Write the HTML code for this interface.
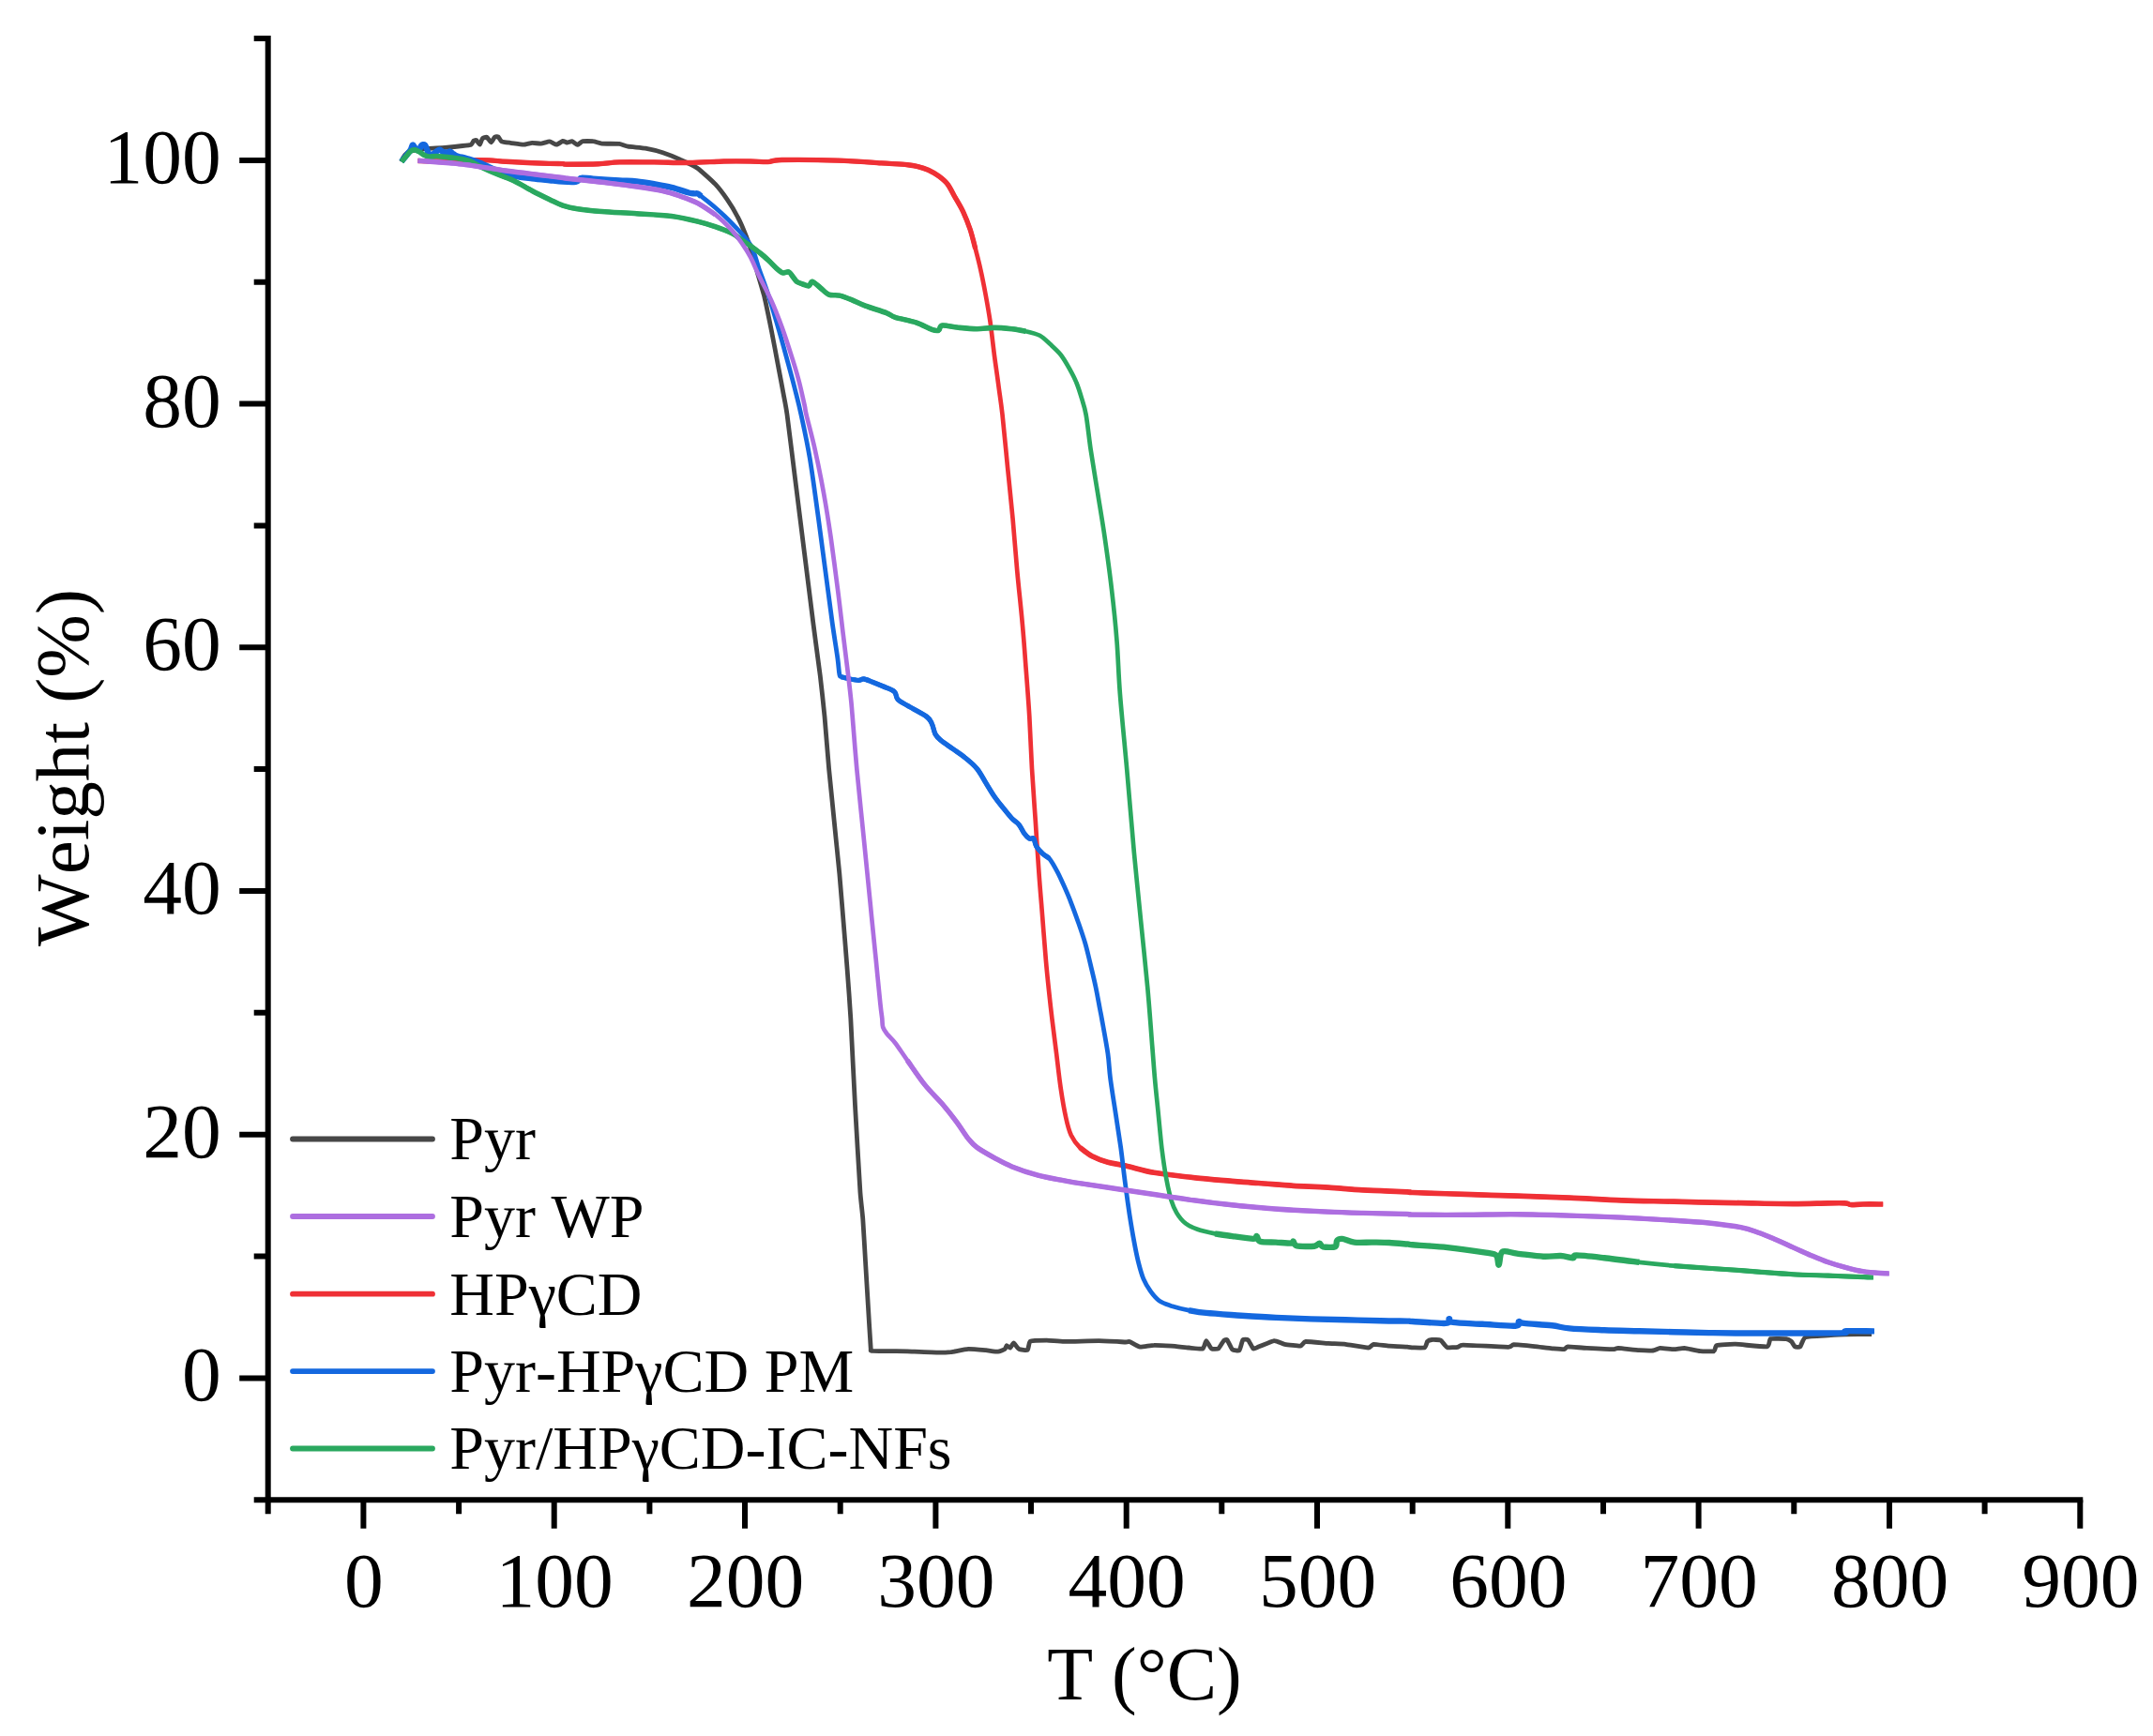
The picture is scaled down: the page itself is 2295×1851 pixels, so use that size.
<!DOCTYPE html>
<html><head><meta charset="utf-8"><title>TGA</title>
<style>
html,body{margin:0;padding:0;background:#fff}
svg{display:block;filter:blur(0.4px)}
text{font-kerning:none;font-family:"Liberation Serif","DejaVu Serif",serif;fill:#000}
</style></head><body>
<svg width="2295" height="1851" viewBox="0 0 2295 1851">
<rect width="2295" height="1851" fill="#fff"/>
<g fill="none" stroke-linejoin="round" stroke-linecap="butt">
<path stroke="#474747" stroke-width="4.80" d="M427.9 172.3C428.1 171.8 430.9 166.1 431.6 165.3C432.3 164.5 435.4 161.6 437.2 161.1C438.9 160.6 453.0 158.6 455.7 158.3C458.5 158.1 471.6 157.6 474.3 157.4C477.0 157.2 490.8 155.8 492.9 155.5C494.9 155.3 501.3 154.6 502.2 154.2C503.1 153.7 504.6 150.3 505.0 150.0C505.4 149.6 507.3 149.2 507.8 149.5C508.2 149.8 511.0 154.3 511.5 154.2C511.9 154.0 513.7 148.2 514.3 147.6C514.8 147.1 518.2 145.9 518.9 146.3C519.6 146.6 522.9 151.8 523.5 151.8C524.2 151.8 526.7 146.7 527.3 146.3C527.8 145.8 530.4 145.5 531.0 145.8C531.5 146.1 533.7 150.4 534.7 150.9C535.6 151.4 542.3 152.1 544.0 152.3C545.7 152.5 556.2 154.2 557.9 154.2C559.6 154.2 565.8 152.4 567.2 152.3C568.6 152.2 575.1 153.3 576.5 153.2C577.9 153.1 584.6 150.8 585.8 150.9C587.0 151.0 592.2 154.2 593.2 154.2C594.3 154.1 599.2 150.6 600.0 150.4C600.8 150.3 603.6 151.9 604.4 152.0C605.1 152.0 609.1 150.5 609.9 150.7C610.8 150.8 614.7 154.4 615.5 154.4C616.3 154.4 619.9 150.9 621.1 150.7C622.3 150.4 630.7 150.5 632.2 150.7C633.7 150.8 639.5 152.9 641.5 153.1C643.6 153.3 658.1 153.2 660.1 153.4C662.1 153.7 667.3 155.9 669.4 156.2C671.4 156.6 685.2 157.6 688.0 158.1C690.7 158.6 703.8 161.8 706.5 162.7C709.3 163.6 722.4 168.9 725.1 170.2C727.9 171.4 741.0 177.5 743.7 179.5C746.4 181.4 760.0 193.7 762.3 196.2C764.6 198.6 773.5 210.3 775.3 212.9C777.1 215.5 785.1 228.9 786.4 231.5C787.8 234.1 792.9 245.7 793.9 248.2C794.9 250.6 799.0 261.8 800.0 264.9C801.0 268.0 806.3 287.1 807.4 290.9C808.5 294.7 813.8 312.4 814.9 316.9C816.0 321.4 821.2 346.8 822.3 352.2C823.4 357.7 828.8 386.2 829.7 391.2C830.7 396.3 834.6 417.3 835.3 421.0C836.0 424.7 838.1 435.0 839.0 442.0C840.0 449.0 846.9 505.4 848.3 516.3C849.7 527.2 856.2 579.7 857.6 590.6C859.0 601.5 865.7 655.4 866.9 664.9C868.1 674.5 873.4 713.4 874.3 720.7C875.2 727.9 878.3 756.7 879.0 764.0C879.6 771.2 882.9 811.6 883.6 819.7C884.4 827.9 888.4 867.3 889.2 875.5C890.0 883.6 894.0 923.0 894.8 931.2C895.5 939.4 898.8 979.5 899.4 986.9C900.0 994.4 902.6 1026.1 903.1 1033.4C903.7 1040.7 906.2 1075.3 906.8 1086.0C907.4 1096.6 910.7 1165.3 911.5 1178.9C912.2 1192.5 916.4 1262.9 917.0 1271.8C917.7 1280.7 919.4 1294.5 919.8 1300.0C920.2 1305.5 922.2 1339.6 922.6 1346.4C923.0 1353.3 925.0 1386.2 925.4 1392.9C925.8 1399.6 927.9 1434.0 928.2 1437.5C928.5 1441.0 927.2 1440.0 930.1 1440.3C932.9 1440.5 962.0 1440.7 967.2 1440.8C972.4 1441.0 997.2 1442.1 1000.7 1442.1C1004.1 1442.2 1011.3 1441.8 1013.7 1441.6C1016.0 1441.3 1029.5 1438.5 1032.2 1438.4C1035.0 1438.3 1048.5 1439.5 1050.8 1439.7C1053.1 1439.9 1062.3 1441.3 1063.8 1441.2C1065.3 1441.1 1070.6 1438.9 1071.2 1438.4C1071.9 1437.9 1072.7 1434.8 1073.1 1434.7C1073.5 1434.6 1076.3 1437.3 1076.8 1437.1C1077.4 1436.9 1079.9 1431.8 1080.5 1431.9C1081.2 1432.0 1085.0 1437.9 1086.1 1438.4C1087.2 1439.0 1094.5 1440.0 1095.4 1439.3C1096.3 1438.7 1096.7 1430.8 1098.2 1430.1C1099.7 1429.3 1113.2 1429.1 1115.8 1429.1C1118.5 1429.1 1130.3 1430.4 1134.4 1430.4C1138.5 1430.5 1166.8 1429.6 1171.6 1429.7C1176.4 1429.7 1197.6 1430.9 1200.0 1431.0C1202.4 1431.0 1202.9 1430.2 1204.0 1430.5C1205.2 1430.9 1213.3 1435.8 1215.2 1436.1C1217.1 1436.4 1227.6 1434.3 1230.1 1434.3C1232.5 1434.2 1245.9 1435.0 1248.6 1435.2C1251.4 1435.4 1264.8 1436.8 1267.2 1437.0C1269.7 1437.2 1280.7 1438.5 1282.1 1438.0C1283.4 1437.4 1285.1 1429.6 1285.8 1429.6C1286.5 1429.6 1290.4 1437.4 1291.4 1438.0C1292.3 1438.6 1297.8 1438.6 1298.8 1438.0C1299.7 1437.4 1303.7 1430.3 1304.4 1429.6C1305.0 1428.9 1307.4 1428.0 1308.1 1428.7C1308.8 1429.4 1312.7 1438.1 1313.7 1438.9C1314.6 1439.7 1320.3 1440.6 1321.1 1439.8C1321.9 1439.1 1324.1 1429.5 1324.8 1428.7C1325.5 1427.9 1329.6 1428.0 1330.4 1428.7C1331.2 1429.4 1335.1 1437.4 1335.9 1438.0C1336.8 1438.5 1339.9 1436.7 1341.5 1436.1C1343.2 1435.5 1356.2 1429.8 1358.2 1429.6C1360.3 1429.4 1367.3 1432.9 1369.4 1433.3C1371.4 1433.7 1384.5 1435.4 1386.1 1435.2C1387.7 1435.0 1389.5 1430.7 1391.7 1430.5C1393.9 1430.3 1412.7 1432.2 1415.8 1432.4C1419.0 1432.6 1431.3 1433.0 1434.4 1433.3C1437.6 1433.7 1456.4 1437.0 1458.6 1437.0C1460.7 1437.0 1462.5 1433.5 1464.1 1433.3C1465.8 1433.2 1478.2 1435.0 1480.9 1435.2C1483.5 1435.4 1498.2 1436.0 1500.0 1436.1C1501.8 1436.2 1504.4 1436.8 1505.7 1436.9C1507.1 1436.9 1517.6 1437.4 1518.7 1436.9C1519.9 1436.4 1521.0 1431.0 1521.5 1430.4C1522.1 1429.8 1525.2 1428.6 1526.2 1428.5C1527.2 1428.4 1534.4 1428.5 1535.5 1428.9C1536.5 1429.3 1539.6 1433.5 1540.1 1434.1C1540.7 1434.7 1541.9 1436.7 1542.9 1436.9C1543.9 1437.0 1552.8 1436.5 1554.0 1436.3C1555.3 1436.1 1555.7 1434.1 1559.6 1434.1C1563.6 1434.1 1604.0 1436.3 1607.9 1436.3C1611.9 1436.3 1611.4 1433.8 1613.5 1433.7C1615.5 1433.7 1632.8 1435.3 1635.8 1435.6C1638.8 1435.9 1652.0 1437.6 1654.4 1437.8C1656.7 1438.0 1666.1 1438.9 1667.4 1438.7C1668.6 1438.6 1669.3 1436.0 1671.1 1435.9C1672.9 1435.9 1688.0 1437.2 1691.5 1437.4C1695.1 1437.6 1716.9 1438.7 1719.4 1438.7C1721.8 1438.7 1722.9 1437.4 1725.0 1437.4C1727.0 1437.5 1744.5 1439.5 1747.3 1439.7C1750.0 1439.9 1760.5 1440.2 1762.1 1440.0C1763.8 1439.9 1767.9 1437.5 1769.6 1437.4C1771.2 1437.3 1782.5 1438.7 1784.4 1438.7C1786.3 1438.7 1793.5 1437.3 1795.6 1437.4C1797.6 1437.6 1810.0 1440.4 1812.3 1440.6C1814.6 1440.8 1825.9 1441.0 1827.1 1440.6C1828.4 1440.1 1828.3 1435.0 1829.9 1434.5C1831.6 1433.9 1846.1 1433.1 1850.0 1433.2C1853.9 1433.3 1880.9 1436.4 1883.6 1435.9C1886.3 1435.5 1885.8 1428.2 1887.3 1427.6C1888.8 1427.0 1902.4 1427.4 1904.0 1427.6C1905.7 1427.8 1908.9 1429.8 1909.6 1430.4C1910.3 1431.0 1912.6 1435.5 1913.3 1435.9C1914.0 1436.4 1918.1 1436.7 1918.9 1435.9C1919.7 1435.2 1922.3 1426.6 1924.5 1425.7C1926.7 1424.8 1945.5 1424.1 1948.6 1423.9C1951.8 1423.7 1963.8 1423.0 1967.2 1422.9C1970.6 1422.8 1993.0 1422.6 1995.1 1422.6"/>
<path stroke="#EF3035" stroke-width="4.70" d="M445.5 171.5C450.3 171.6 466.4 172.0 474.3 172.0C482.2 172.0 488.2 171.6 492.9 171.4C497.5 171.2 497.5 170.8 502.2 170.7C506.8 170.6 514.6 170.6 520.8 170.9C527.0 171.1 531.6 171.8 539.3 172.3C547.1 172.7 559.5 173.3 567.2 173.7C574.9 174.0 580.3 174.2 585.8 174.4C591.3 174.6 596.9 174.5 600.0 174.6C603.1 174.7 598.1 175.1 604.4 175.2C610.7 175.2 628.5 175.2 637.8 174.8C647.1 174.4 650.2 173.3 660.1 172.9C670.0 172.6 684.9 172.9 697.3 172.9C709.6 173.0 722.0 173.7 734.4 173.5C746.8 173.4 760.6 172.3 771.6 172.0C782.5 171.8 792.2 171.9 800.0 172.0C807.8 172.1 813.0 172.8 818.6 172.6C824.2 172.3 821.1 170.8 833.4 170.5C845.8 170.3 875.2 170.5 892.9 171.1C910.5 171.6 927.0 173.1 939.3 173.9C951.7 174.7 960.7 175.1 967.2 175.7C973.7 176.4 974.6 176.7 978.4 177.6C982.1 178.5 985.8 179.6 989.5 181.3C993.2 183.0 997.2 185.3 1000.7 187.8C1004.1 190.3 1007.2 192.6 1009.9 196.2C1012.7 199.7 1014.6 204.2 1017.4 209.2C1020.2 214.1 1023.9 220.0 1026.7 225.9C1029.4 231.8 1031.9 238.0 1034.1 244.5C1036.3 251.0 1037.8 257.8 1039.7 264.9C1041.5 272.0 1043.4 278.8 1045.2 287.2C1047.1 295.6 1049.1 305.8 1050.8 315.1C1052.5 324.4 1053.9 332.1 1055.5 342.9C1057.0 353.8 1058.6 368.3 1060.1 380.1C1061.7 391.9 1063.4 403.2 1064.7 413.5C1066.1 423.9 1066.9 427.9 1068.5 442.0C1070.0 456.0 1072.2 479.2 1074.0 497.7C1075.9 516.3 1077.9 534.9 1079.6 553.5C1081.3 572.1 1082.6 590.6 1084.3 609.2C1086.0 627.8 1088.3 647.9 1089.8 664.9C1091.4 682.0 1092.3 694.9 1093.5 711.4C1094.8 727.9 1096.2 745.9 1097.3 764.0C1098.3 782.0 1099.0 801.2 1100.0 819.7C1101.1 838.3 1102.5 856.9 1103.8 875.5C1105.0 894.1 1106.2 914.2 1107.5 931.2C1108.7 948.2 1110.0 962.2 1111.2 977.7C1112.4 993.1 1113.7 1010.2 1114.9 1024.1C1116.1 1038.0 1117.5 1050.9 1118.6 1061.3C1119.7 1071.6 1120.2 1075.7 1121.4 1086.0C1122.7 1096.3 1124.5 1110.8 1126.1 1123.2C1127.6 1135.5 1129.0 1148.9 1130.7 1160.3C1132.4 1171.8 1134.4 1183.5 1136.3 1191.9C1138.1 1200.3 1139.4 1205.2 1141.8 1210.5C1144.3 1215.7 1147.4 1219.8 1151.1 1223.5C1154.9 1227.2 1159.2 1230.1 1164.1 1232.8C1169.1 1235.4 1174.9 1237.6 1180.9 1239.3C1186.8 1241.0 1191.8 1241.1 1200.0 1243.0C1208.2 1244.8 1218.8 1248.3 1230.1 1250.3C1241.3 1252.3 1254.8 1253.6 1267.2 1255.0C1279.6 1256.4 1292.0 1257.6 1304.4 1258.7C1316.8 1259.8 1329.1 1260.5 1341.5 1261.5C1353.9 1262.4 1366.3 1263.5 1378.7 1264.3C1391.1 1265.0 1403.5 1265.3 1415.8 1266.1C1428.2 1266.9 1439.0 1268.1 1453.0 1268.9C1467.0 1269.7 1491.2 1270.3 1500.0 1270.8C1508.8 1271.2 1495.5 1271.1 1505.7 1271.5C1516.0 1272.0 1542.9 1272.8 1561.5 1273.4C1580.1 1274.0 1598.6 1274.6 1617.2 1275.2C1635.8 1275.9 1654.4 1276.3 1672.9 1277.1C1691.5 1277.9 1710.1 1279.2 1728.7 1279.9C1747.3 1280.6 1764.2 1280.7 1784.4 1281.2C1804.6 1281.7 1838.1 1282.4 1850.0 1282.7C1861.9 1282.9 1845.5 1282.5 1855.7 1282.7C1866.0 1282.8 1896.0 1283.6 1911.5 1283.6C1927.0 1283.6 1939.3 1283.0 1948.6 1282.9C1957.9 1282.7 1963.2 1282.6 1967.2 1282.9C1971.2 1283.1 1969.7 1284.3 1972.8 1284.5C1975.9 1284.7 1980.1 1284.1 1985.8 1284.0C1991.5 1283.9 2003.6 1284.0 2007.2 1284.0"/>
<path stroke="#EF3035" stroke-width="5.40" d="M445.5 171.5C450.3 171.6 466.4 172.0 474.3 172.0C482.2 172.0 488.2 171.6 492.9 171.4C497.5 171.2 497.5 170.8 502.2 170.7C506.8 170.6 514.6 170.6 520.8 170.9C527.0 171.1 531.6 171.8 539.3 172.3C547.1 172.7 559.5 173.3 567.2 173.7C574.9 174.0 580.3 174.2 585.8 174.4C591.3 174.6 596.9 174.5 600.0 174.6C603.1 174.7 598.1 175.1 604.4 175.2C610.7 175.2 628.5 175.2 637.8 174.8C647.1 174.4 650.2 173.3 660.1 172.9C670.0 172.6 684.9 172.9 697.3 172.9C709.6 173.0 722.0 173.7 734.4 173.5C746.8 173.4 760.6 172.3 771.6 172.0C782.5 171.8 792.2 171.9 800.0 172.0C807.8 172.1 813.0 172.8 818.6 172.6C824.2 172.3 821.1 170.8 833.4 170.5C845.8 170.3 875.2 170.5 892.9 171.1C910.5 171.6 927.0 173.1 939.3 173.9C951.7 174.7 960.7 175.1 967.2 175.7C973.7 176.4 974.6 176.7 978.4 177.6C982.1 178.5 985.8 179.6 989.5 181.3C993.2 183.0 997.2 185.3 1000.7 187.8C1004.1 190.3 1007.2 192.6 1009.9 196.2C1012.7 199.7 1014.6 204.2 1017.4 209.2C1020.2 214.1 1023.9 220.0 1026.7 225.9C1029.4 231.8 1031.9 238.0 1034.1 244.5C1036.3 251.0 1038.7 261.5 1039.7 264.9"/>
<path stroke="#EF3035" stroke-width="5.70" d="M1151.1 1223.5C1153.3 1225.0 1159.2 1230.1 1164.1 1232.8C1169.1 1235.4 1174.9 1237.6 1180.9 1239.3C1186.8 1241.0 1191.8 1241.1 1200.0 1243.0C1208.2 1244.8 1218.8 1248.3 1230.1 1250.3C1241.3 1252.3 1254.8 1253.6 1267.2 1255.0C1279.6 1256.4 1292.0 1257.6 1304.4 1258.7C1316.8 1259.8 1329.1 1260.5 1341.5 1261.5C1353.9 1262.4 1366.3 1263.5 1378.7 1264.3C1391.1 1265.0 1403.5 1265.3 1415.8 1266.1C1428.2 1266.9 1439.0 1268.1 1453.0 1268.9C1467.0 1269.7 1491.2 1270.3 1500.0 1270.8C1508.8 1271.2 1495.5 1271.1 1505.7 1271.5C1516.0 1272.0 1542.9 1272.8 1561.5 1273.4C1580.1 1274.0 1598.6 1274.6 1617.2 1275.2C1635.8 1275.9 1654.4 1276.3 1672.9 1277.1C1691.5 1277.9 1710.1 1279.2 1728.7 1279.9C1747.3 1280.6 1764.2 1280.7 1784.4 1281.2C1804.6 1281.7 1838.1 1282.4 1850.0 1282.7C1861.9 1282.9 1845.5 1282.5 1855.7 1282.7C1866.0 1282.8 1896.0 1283.6 1911.5 1283.6C1927.0 1283.6 1939.3 1283.0 1948.6 1282.9C1957.9 1282.7 1963.2 1282.6 1967.2 1282.9C1971.2 1283.1 1969.7 1284.3 1972.8 1284.5C1975.9 1284.7 1980.1 1284.1 1985.8 1284.0C1991.5 1283.9 2003.6 1284.0 2007.2 1284.0"/>
<path stroke="#1468DF" stroke-width="4.80" d="M427.9 172.3C429.4 170.3 435.1 163.6 437.2 160.7C439.2 157.7 439.0 155.1 439.9 154.6C440.9 154.2 441.6 156.9 442.7 157.9C443.8 158.9 445.4 161.1 446.4 160.7C447.5 160.2 448.1 156.1 449.2 155.1C450.3 154.1 451.9 153.7 452.9 154.6C454.0 155.5 454.8 158.7 455.7 160.7C456.7 162.6 457.0 166.1 458.5 166.2C460.1 166.4 463.3 162.7 465.0 161.6C466.7 160.5 467.5 159.6 468.7 159.7C470.0 159.8 471.1 161.6 472.5 162.0C473.9 162.5 475.9 162.6 477.1 162.5C478.3 162.4 478.8 161.3 479.9 161.6C481.0 161.9 482.2 163.5 483.6 164.4C485.0 165.2 485.9 165.9 488.2 166.7C490.6 167.5 493.7 167.9 497.5 169.0C501.4 170.2 506.1 171.5 511.5 173.7C516.9 175.8 523.9 179.7 530.1 182.0C536.2 184.3 542.4 186.2 548.6 187.6C554.8 189.0 561.0 189.6 567.2 190.4C573.4 191.2 580.3 191.7 585.8 192.2C591.3 192.8 595.4 193.4 600.0 193.6C604.6 193.9 610.8 194.1 613.7 193.8C616.6 193.4 616.3 192.2 617.4 191.5C618.5 190.8 617.7 189.8 620.2 189.7C622.6 189.5 625.6 190.1 632.2 190.6C638.9 191.1 652.4 192.0 660.1 192.5C667.8 192.9 672.5 192.8 678.7 193.4C684.9 194.0 691.1 195.1 697.3 196.2C703.5 197.3 709.6 198.3 715.8 199.9C722.0 201.4 730.4 204.4 734.4 205.5C738.4 206.5 738.4 206.2 740.0 206.4C741.5 206.5 742.5 205.9 743.7 206.4C744.9 206.9 744.3 206.7 747.4 209.2C750.5 211.7 756.7 216.3 762.3 221.3C767.9 226.2 774.6 232.2 780.9 238.9C787.1 245.6 795.3 253.1 800.0 261.2C804.7 269.2 806.2 278.5 809.3 287.2C812.4 295.9 815.4 303.6 818.6 313.2C821.7 322.8 825.0 333.7 828.2 344.8C831.5 355.9 835.0 368.6 838.1 380.1C841.2 391.6 844.4 403.2 847.0 413.5C849.6 423.9 851.2 429.5 853.9 442.0C856.6 454.5 860.1 469.9 863.2 488.4C866.3 507.0 869.7 533.3 872.5 553.5C875.2 573.6 877.4 590.6 879.9 609.2C882.4 627.8 885.2 649.5 887.3 664.9C889.5 680.4 891.7 693.1 892.9 702.1C894.1 711.1 894.1 715.6 894.8 718.8C895.4 722.1 895.1 720.8 896.6 721.6C898.2 722.4 900.9 722.8 904.0 723.5C907.1 724.1 912.4 725.2 915.2 725.3C918.0 725.4 918.3 723.7 920.8 724.0C923.2 724.3 926.6 725.9 930.1 727.2C933.5 728.5 937.3 730.1 941.2 731.8C945.1 733.5 950.6 735.1 953.3 737.4C955.9 739.7 954.7 743.3 957.0 745.8C959.3 748.2 962.1 749.2 967.2 752.3C972.3 755.3 983.3 760.8 987.6 764.0C992.0 767.2 991.7 768.3 993.2 771.4C994.8 774.5 995.4 779.6 996.9 782.6C998.5 785.5 999.4 786.4 1002.5 789.1C1005.6 791.7 1011.2 795.3 1015.5 798.4C1019.8 801.5 1024.2 804.1 1028.5 807.7C1032.9 811.2 1037.8 815.2 1041.5 819.7C1045.2 824.2 1047.7 829.6 1050.8 834.6C1053.9 839.6 1057.0 845.0 1060.1 849.5C1063.2 854.0 1066.3 857.7 1069.4 861.5C1072.5 865.4 1075.9 869.7 1078.7 872.7C1081.5 875.6 1083.9 876.6 1086.1 879.2C1088.3 881.8 1089.8 886.0 1091.7 888.5C1093.5 891.0 1095.6 893.1 1097.3 894.1C1099.0 895.0 1100.7 892.7 1101.9 894.1C1103.1 895.4 1103.0 899.6 1104.7 902.4C1106.4 905.2 1109.8 908.6 1112.1 910.8C1114.4 912.9 1116.1 912.3 1118.6 915.4C1121.1 918.5 1124.4 924.4 1127.0 929.4C1129.6 934.3 1131.9 939.6 1134.4 945.1C1136.9 950.7 1139.4 956.4 1141.8 962.8C1144.3 969.1 1146.8 976.1 1149.3 983.2C1151.8 990.4 1154.5 998.1 1156.7 1005.5C1158.9 1013.0 1160.4 1020.1 1162.3 1027.8C1164.1 1035.6 1166.2 1043.9 1167.9 1052.0C1169.6 1060.0 1171.4 1070.5 1172.5 1076.1C1173.6 1081.8 1173.0 1078.1 1174.4 1086.0C1175.8 1093.8 1179.3 1112.5 1180.9 1123.2C1182.4 1133.8 1182.2 1139.3 1183.6 1150.0C1185.0 1160.7 1187.3 1174.8 1189.2 1187.2C1191.0 1199.5 1193.0 1211.9 1194.8 1224.3C1196.5 1236.7 1197.8 1249.7 1199.4 1261.5C1200.9 1273.2 1202.5 1284.7 1204.0 1294.9C1205.6 1305.1 1207.1 1314.4 1208.7 1322.8C1210.2 1331.1 1211.6 1338.3 1213.3 1345.1C1215.0 1351.9 1216.7 1358.4 1218.9 1363.7C1221.1 1368.9 1223.5 1372.8 1226.3 1376.7C1229.1 1380.5 1231.9 1384.2 1235.6 1386.9C1239.3 1389.5 1243.4 1390.7 1248.6 1392.5C1253.9 1394.2 1261.0 1395.9 1267.2 1397.1C1273.4 1398.3 1276.5 1399.0 1285.8 1399.9C1295.1 1400.8 1310.6 1401.8 1322.9 1402.7C1335.3 1403.5 1347.7 1404.3 1360.1 1404.9C1372.5 1405.5 1384.9 1406.0 1397.3 1406.4C1409.6 1406.8 1422.0 1407.0 1434.4 1407.3C1446.8 1407.6 1460.6 1408.0 1471.6 1408.2C1482.5 1408.5 1494.3 1408.5 1500.0 1408.6C1505.7 1408.7 1498.9 1408.6 1505.7 1409.0C1512.6 1409.4 1534.5 1411.3 1541.0 1410.9C1547.5 1410.4 1543.5 1406.4 1544.8 1406.2C1546.0 1406.1 1542.6 1409.0 1548.5 1409.9C1554.4 1410.9 1568.9 1411.2 1580.1 1411.8C1591.2 1412.4 1608.8 1414.1 1615.4 1413.7C1621.9 1413.2 1617.5 1409.5 1619.1 1409.0C1620.6 1408.5 1618.8 1410.2 1624.6 1410.9C1630.5 1411.6 1646.3 1412.4 1654.4 1413.3C1662.4 1414.2 1663.7 1415.6 1672.9 1416.4C1682.2 1417.3 1697.7 1417.8 1710.1 1418.3C1722.5 1418.8 1734.9 1418.9 1747.3 1419.2C1759.6 1419.5 1772.0 1419.8 1784.4 1420.2C1796.8 1420.5 1810.6 1420.9 1821.6 1421.1C1832.5 1421.3 1844.3 1421.4 1850.0 1421.5C1855.7 1421.5 1845.5 1421.5 1855.7 1421.5C1866.0 1421.5 1893.4 1421.5 1911.5 1421.5C1929.6 1421.4 1955.0 1421.5 1964.4 1421.1C1973.9 1420.7 1962.6 1419.5 1968.1 1419.2C1973.7 1419.0 1992.9 1419.4 1997.9 1419.4"/>
<path stroke="#1468DF" stroke-width="6.40" d="M427.9 172.3C429.4 170.3 435.1 163.6 437.2 160.7C439.2 157.7 439.0 155.1 439.9 154.6C440.9 154.2 441.6 156.9 442.7 157.9C443.8 158.9 445.4 161.1 446.4 160.7C447.5 160.2 448.1 156.1 449.2 155.1C450.3 154.1 451.9 153.7 452.9 154.6C454.0 155.5 454.8 158.7 455.7 160.7C456.7 162.6 457.0 166.1 458.5 166.2C460.1 166.4 463.3 162.7 465.0 161.6C466.7 160.5 467.5 159.6 468.7 159.7C470.0 159.8 471.1 161.6 472.5 162.0C473.9 162.5 475.9 162.6 477.1 162.5C478.3 162.4 478.8 161.3 479.9 161.6C481.0 161.9 482.2 163.5 483.6 164.4C485.0 165.2 485.9 165.9 488.2 166.7C490.6 167.5 493.7 167.9 497.5 169.0C501.4 170.2 506.1 171.5 511.5 173.7C516.9 175.8 523.9 179.7 530.1 182.0C536.2 184.3 542.4 186.2 548.6 187.6C554.8 189.0 561.0 189.6 567.2 190.4C573.4 191.2 580.3 191.7 585.8 192.2C591.3 192.8 595.4 193.4 600.0 193.6C604.6 193.9 610.8 194.1 613.7 193.8C616.6 193.4 616.3 192.2 617.4 191.5C618.5 190.8 617.7 189.8 620.2 189.7C622.6 189.5 625.6 190.1 632.2 190.6C638.9 191.1 652.4 192.0 660.1 192.5C667.8 192.9 672.5 192.8 678.7 193.4C684.9 194.0 691.1 195.1 697.3 196.2C703.5 197.3 709.6 198.3 715.8 199.9C722.0 201.4 730.4 204.4 734.4 205.5C738.4 206.5 738.4 206.2 740.0 206.4C741.5 206.5 742.5 205.9 743.7 206.4C744.9 206.9 746.8 208.7 747.4 209.2"/>
<path stroke="#1468DF" stroke-width="5.30" d="M896.6 721.6C897.8 721.9 900.9 722.8 904.0 723.5C907.1 724.1 912.4 725.2 915.2 725.3C918.0 725.4 918.3 723.7 920.8 724.0C923.2 724.3 926.6 725.9 930.1 727.2C933.5 728.5 937.3 730.1 941.2 731.8C945.1 733.5 950.6 735.1 953.3 737.4C955.9 739.7 954.7 743.3 957.0 745.8C959.3 748.2 962.1 749.2 967.2 752.3C972.3 755.3 983.3 760.8 987.6 764.0C992.0 767.2 991.7 768.3 993.2 771.4C994.8 774.5 995.4 779.6 996.9 782.6C998.5 785.5 999.4 786.4 1002.5 789.1C1005.6 791.7 1011.2 795.3 1015.5 798.4C1019.8 801.5 1024.2 804.1 1028.5 807.7C1032.9 811.2 1037.8 815.2 1041.5 819.7C1045.2 824.2 1047.7 829.6 1050.8 834.6C1053.9 839.6 1057.0 845.0 1060.1 849.5C1063.2 854.0 1066.3 857.7 1069.4 861.5C1072.5 865.4 1075.9 869.7 1078.7 872.7C1081.5 875.6 1083.9 876.6 1086.1 879.2C1088.3 881.8 1089.8 886.0 1091.7 888.5C1093.5 891.0 1095.6 893.1 1097.3 894.1C1099.0 895.0 1100.7 892.7 1101.9 894.1C1103.1 895.4 1103.0 899.6 1104.7 902.4C1106.4 905.2 1109.8 908.6 1112.1 910.8C1114.4 912.9 1117.5 914.6 1118.6 915.4"/>
<path stroke="#1468DF" stroke-width="6.40" d="M1267.2 1397.1C1270.3 1397.6 1276.5 1399.0 1285.8 1399.9C1295.1 1400.8 1310.6 1401.8 1322.9 1402.7C1335.3 1403.5 1347.7 1404.3 1360.1 1404.9C1372.5 1405.5 1384.9 1406.0 1397.3 1406.4C1409.6 1406.8 1422.0 1407.0 1434.4 1407.3C1446.8 1407.6 1460.6 1408.0 1471.6 1408.2C1482.5 1408.5 1494.3 1408.5 1500.0 1408.6C1505.7 1408.7 1498.9 1408.6 1505.7 1409.0C1512.6 1409.4 1534.5 1411.3 1541.0 1410.9C1547.5 1410.4 1543.5 1406.4 1544.8 1406.2C1546.0 1406.1 1542.6 1409.0 1548.5 1409.9C1554.4 1410.9 1568.9 1411.2 1580.1 1411.8C1591.2 1412.4 1608.8 1414.1 1615.4 1413.7C1621.9 1413.2 1617.5 1409.5 1619.1 1409.0C1620.6 1408.5 1618.8 1410.2 1624.6 1410.9C1630.5 1411.6 1646.3 1412.4 1654.4 1413.3C1662.4 1414.2 1663.7 1415.6 1672.9 1416.4C1682.2 1417.3 1697.7 1417.8 1710.1 1418.3C1722.5 1418.8 1734.9 1418.9 1747.3 1419.2C1759.6 1419.5 1772.0 1419.8 1784.4 1420.2C1796.8 1420.5 1810.6 1420.9 1821.6 1421.1C1832.5 1421.3 1844.3 1421.4 1850.0 1421.5C1855.7 1421.5 1845.5 1421.5 1855.7 1421.5C1866.0 1421.5 1893.4 1421.5 1911.5 1421.5C1929.6 1421.4 1955.0 1421.5 1964.4 1421.1C1973.9 1420.7 1962.6 1419.5 1968.1 1419.2C1973.7 1419.0 1992.9 1419.4 1997.9 1419.4"/>
<path stroke="#2AA85F" stroke-width="4.70" d="M427.9 172.3C428.6 171.5 431.1 168.8 432.5 167.2C433.9 165.6 435.8 162.7 437.2 161.6C438.6 160.5 440.4 159.7 441.8 159.7C443.2 159.7 444.9 160.7 446.4 161.6C448.0 162.4 450.3 164.5 452.0 165.3C453.7 166.1 455.6 167.0 457.6 167.2C459.5 167.3 462.5 166.5 465.0 166.5C467.5 166.5 471.5 167.1 474.3 167.3C477.1 167.6 480.8 167.9 483.6 168.3C486.4 168.6 490.1 169.2 492.9 169.8C495.7 170.4 499.4 171.1 502.2 172.3C505.0 173.4 507.3 175.4 511.5 177.4C515.7 179.4 524.5 183.4 530.1 185.7C535.6 188.1 543.1 190.5 548.6 193.2C554.2 195.8 561.6 200.5 567.2 203.4C572.8 206.3 580.9 210.3 585.8 212.7C590.7 215.0 595.5 217.7 600.0 219.2C604.5 220.7 609.3 221.8 615.5 222.7C621.7 223.7 632.0 224.8 641.5 225.5C651.0 226.3 667.5 227.0 678.7 227.8C689.8 228.5 706.1 229.3 715.8 230.5C725.6 231.8 736.7 234.4 743.7 236.1C750.7 237.8 756.7 239.7 762.3 241.7C767.9 243.6 776.7 247.0 780.9 249.1C785.0 251.2 787.3 253.7 790.2 255.6C793.0 257.6 796.9 259.9 800.0 262.1C803.1 264.4 808.1 268.0 811.1 270.5C814.2 273.0 817.9 276.5 820.4 278.8C822.9 281.2 825.8 284.5 827.9 286.3C830.0 288.1 832.4 290.4 834.4 290.9C836.3 291.5 839.2 289.3 840.9 290.0C842.5 290.7 844.3 294.0 845.5 295.6C846.8 297.1 847.7 299.1 849.2 300.2C850.8 301.3 853.8 302.3 855.7 303.0C857.7 303.7 860.7 305.3 862.2 304.9C863.8 304.4 864.1 299.9 866.0 300.2C867.8 300.5 871.7 304.6 874.3 306.7C877.0 308.8 880.5 312.9 883.6 314.1C886.7 315.4 891.1 314.2 894.8 315.1C898.4 315.9 903.6 318.0 907.8 319.7C911.9 321.4 917.0 324.1 922.6 326.2C928.2 328.3 940.2 331.8 944.9 333.7C949.7 335.5 949.5 336.8 954.2 338.3C958.9 339.8 970.6 341.9 976.5 343.9C982.4 345.8 989.6 350.1 993.2 351.3C996.8 352.6 999.0 352.9 1000.7 352.2C1002.3 351.6 1001.0 347.5 1004.4 347.0C1007.7 346.6 1017.4 348.9 1022.9 349.4C1028.5 350.0 1035.9 350.7 1041.5 350.7C1047.1 350.7 1054.5 349.4 1060.1 349.4C1065.7 349.4 1073.7 350.2 1078.7 350.7C1083.7 351.3 1089.1 352.1 1093.5 353.2C1098.0 354.2 1104.5 355.7 1108.4 357.8C1112.3 359.9 1116.2 364.0 1119.6 367.1C1122.9 370.2 1127.6 374.3 1130.7 378.2C1133.8 382.1 1137.5 388.6 1140.0 393.1C1142.5 397.6 1145.5 403.2 1147.4 408.0C1149.4 412.7 1151.5 419.6 1153.0 424.7C1154.5 429.8 1156.2 433.8 1157.6 442.0C1159.1 450.1 1160.8 466.6 1162.6 479.2C1164.5 491.7 1167.8 511.7 1170.1 525.6C1172.3 539.5 1175.3 556.7 1177.5 572.1C1179.7 587.4 1183.0 611.1 1184.9 627.8C1186.9 644.5 1189.2 666.7 1190.5 683.5C1191.9 700.4 1192.2 718.8 1193.9 740.0C1195.5 761.2 1199.4 799.3 1201.6 824.7C1203.9 850.1 1206.7 885.8 1208.9 909.4C1211.1 933.0 1214.0 960.2 1216.1 982.0C1218.3 1003.7 1221.6 1034.6 1223.4 1054.5C1225.2 1074.5 1227.1 1100.7 1228.2 1115.0C1229.4 1129.3 1230.0 1139.2 1231.0 1150.0C1231.9 1160.8 1233.6 1176.0 1234.7 1187.2C1235.8 1198.3 1237.2 1214.0 1238.4 1224.3C1239.7 1234.6 1241.5 1247.5 1243.1 1255.9C1244.6 1264.3 1247.0 1274.5 1248.6 1280.1C1250.3 1285.6 1252.0 1289.4 1254.2 1293.1C1256.4 1296.7 1260.1 1301.6 1263.5 1304.2C1266.8 1306.9 1271.8 1309.0 1276.5 1310.7C1281.2 1312.4 1289.5 1314.2 1295.1 1315.4C1300.7 1316.5 1307.5 1317.3 1313.7 1318.1C1319.8 1319.0 1332.0 1320.9 1335.9 1320.9C1339.9 1320.9 1338.6 1317.7 1339.7 1318.1C1340.8 1318.6 1340.3 1322.7 1343.4 1323.7C1346.4 1324.7 1355.1 1324.4 1360.1 1324.6C1365.1 1324.9 1374.0 1325.7 1376.8 1325.6C1379.6 1325.4 1377.8 1323.3 1378.7 1323.7C1379.5 1324.1 1379.1 1327.6 1382.4 1328.4C1385.7 1329.1 1397.4 1329.1 1401.0 1328.7C1404.6 1328.3 1405.2 1325.5 1406.5 1325.6C1407.9 1325.7 1407.8 1328.7 1410.3 1329.3C1412.8 1329.8 1421.0 1330.3 1423.3 1329.3C1425.5 1328.3 1424.0 1324.0 1425.1 1322.8C1426.2 1321.5 1427.9 1320.6 1430.7 1320.9C1433.5 1321.2 1439.0 1324.1 1443.7 1324.6C1448.4 1325.2 1456.7 1324.6 1462.3 1324.6C1467.9 1324.7 1475.2 1324.7 1480.9 1325.0C1486.5 1325.3 1496.3 1326.2 1500.0 1326.5C1503.7 1326.8 1499.3 1326.7 1505.7 1327.3C1512.2 1327.8 1531.2 1328.8 1542.9 1330.1C1554.6 1331.3 1576.0 1334.4 1583.8 1335.6C1591.6 1336.9 1592.8 1336.5 1594.9 1338.4C1597.0 1340.4 1596.7 1349.2 1597.7 1348.6C1598.7 1348.1 1598.5 1336.5 1601.4 1334.7C1604.3 1332.9 1610.7 1335.8 1617.2 1336.6C1623.8 1337.3 1638.1 1339.3 1645.1 1339.7C1652.0 1340.1 1658.9 1338.7 1663.7 1339.0C1668.4 1339.2 1674.2 1341.3 1676.7 1341.2C1679.2 1341.1 1675.4 1338.4 1680.4 1338.4C1685.4 1338.4 1700.1 1340.1 1710.1 1341.2C1720.1 1342.3 1736.1 1344.6 1747.3 1345.8C1758.4 1347.1 1773.3 1348.6 1784.4 1349.6C1795.6 1350.5 1811.7 1351.6 1821.6 1352.3C1831.4 1353.0 1842.1 1353.6 1850.0 1354.2C1857.9 1354.8 1865.1 1355.4 1874.3 1356.1C1883.5 1356.8 1900.3 1358.2 1911.5 1358.8C1922.6 1359.5 1937.5 1359.7 1948.6 1360.1C1959.8 1360.6 1978.5 1361.4 1985.8 1361.6C1993.0 1361.9 1995.3 1362.0 1996.9 1362.0"/>
<path stroke="#2AA85F" stroke-width="5.60" d="M427.9 172.3C428.6 171.5 431.1 168.8 432.5 167.2C433.9 165.6 435.8 162.7 437.2 161.6C438.6 160.5 440.4 159.7 441.8 159.7C443.2 159.7 444.9 160.7 446.4 161.6C448.0 162.4 450.3 164.5 452.0 165.3C453.7 166.1 455.6 167.0 457.6 167.2C459.5 167.3 462.5 166.5 465.0 166.5C467.5 166.5 471.5 167.1 474.3 167.3C477.1 167.6 480.8 167.9 483.6 168.3C486.4 168.6 490.1 169.2 492.9 169.8C495.7 170.4 499.4 171.1 502.2 172.3C505.0 173.4 507.3 175.4 511.5 177.4C515.7 179.4 524.5 183.4 530.1 185.7C535.6 188.1 543.1 190.5 548.6 193.2C554.2 195.8 561.6 200.5 567.2 203.4C572.8 206.3 580.9 210.3 585.8 212.7C590.7 215.0 595.5 217.7 600.0 219.2C604.5 220.7 609.3 221.8 615.5 222.7C621.7 223.7 632.0 224.8 641.5 225.5C651.0 226.3 667.5 227.0 678.7 227.8C689.8 228.5 706.1 229.3 715.8 230.5C725.6 231.8 736.7 234.4 743.7 236.1C750.7 237.8 756.7 239.7 762.3 241.7C767.9 243.6 776.7 247.0 780.9 249.1C785.0 251.2 787.3 253.7 790.2 255.6C793.0 257.6 796.9 259.9 800.0 262.1C803.1 264.4 808.1 268.0 811.1 270.5C814.2 273.0 817.9 276.5 820.4 278.8C822.9 281.2 825.8 284.5 827.9 286.3C830.0 288.1 832.4 290.4 834.4 290.9C836.3 291.5 839.2 289.3 840.9 290.0C842.5 290.7 844.3 294.0 845.5 295.6C846.8 297.1 847.7 299.1 849.2 300.2C850.8 301.3 853.8 302.3 855.7 303.0C857.7 303.7 860.7 305.3 862.2 304.9C863.8 304.4 864.1 299.9 866.0 300.2C867.8 300.5 871.7 304.6 874.3 306.7C877.0 308.8 880.5 312.9 883.6 314.1C886.7 315.4 891.1 314.2 894.8 315.1C898.4 315.9 903.6 318.0 907.8 319.7C911.9 321.4 917.0 324.1 922.6 326.2C928.2 328.3 940.2 331.8 944.9 333.7C949.7 335.5 949.5 336.8 954.2 338.3C958.9 339.8 970.6 341.9 976.5 343.9C982.4 345.8 989.6 350.1 993.2 351.3C996.8 352.6 999.0 352.9 1000.7 352.2C1002.3 351.6 1001.0 347.5 1004.4 347.0C1007.7 346.6 1017.4 348.9 1022.9 349.4C1028.5 350.0 1035.9 350.7 1041.5 350.7C1047.1 350.7 1054.5 349.4 1060.1 349.4C1065.7 349.4 1073.7 350.2 1078.7 350.7C1083.7 351.3 1091.3 352.8 1093.5 353.2"/>
<path stroke="#2AA85F" stroke-width="6.40" d="M1295.1 1315.4C1297.9 1315.8 1307.5 1317.3 1313.7 1318.1C1319.8 1319.0 1332.0 1320.9 1335.9 1320.9C1339.9 1320.9 1338.6 1317.7 1339.7 1318.1C1340.8 1318.6 1340.3 1322.7 1343.4 1323.7C1346.4 1324.7 1355.1 1324.4 1360.1 1324.6C1365.1 1324.9 1374.0 1325.7 1376.8 1325.6C1379.6 1325.4 1377.8 1323.3 1378.7 1323.7C1379.5 1324.1 1379.1 1327.6 1382.4 1328.4C1385.7 1329.1 1397.4 1329.1 1401.0 1328.7C1404.6 1328.3 1405.2 1325.5 1406.5 1325.6C1407.9 1325.7 1407.8 1328.7 1410.3 1329.3C1412.8 1329.8 1421.0 1330.3 1423.3 1329.3C1425.5 1328.3 1424.0 1324.0 1425.1 1322.8C1426.2 1321.5 1427.9 1320.6 1430.7 1320.9C1433.5 1321.2 1439.0 1324.1 1443.7 1324.6C1448.4 1325.2 1456.7 1324.6 1462.3 1324.6C1467.9 1324.7 1475.2 1324.7 1480.9 1325.0C1486.5 1325.3 1496.3 1326.2 1500.0 1326.5C1503.7 1326.8 1499.3 1326.7 1505.7 1327.3C1512.2 1327.8 1531.2 1328.8 1542.9 1330.1C1554.6 1331.3 1576.0 1334.4 1583.8 1335.6C1591.6 1336.9 1592.8 1336.5 1594.9 1338.4C1597.0 1340.4 1596.7 1349.2 1597.7 1348.6C1598.7 1348.1 1598.5 1336.5 1601.4 1334.7C1604.3 1332.9 1610.7 1335.8 1617.2 1336.6C1623.8 1337.3 1638.1 1339.3 1645.1 1339.7C1652.0 1340.1 1658.9 1338.7 1663.7 1339.0C1668.4 1339.2 1674.2 1341.3 1676.7 1341.2C1679.2 1341.1 1675.4 1338.4 1680.4 1338.4C1685.4 1338.4 1700.1 1340.1 1710.1 1341.2C1720.1 1342.3 1741.7 1345.1 1747.3 1345.8"/>
<path stroke="#2AA85F" stroke-width="5.10" d="M1784.4 1349.6C1790.0 1350.0 1811.7 1351.6 1821.6 1352.3C1831.4 1353.0 1842.1 1353.6 1850.0 1354.2C1857.9 1354.8 1865.1 1355.4 1874.3 1356.1C1883.5 1356.8 1900.3 1358.2 1911.5 1358.8C1922.6 1359.5 1937.5 1359.7 1948.6 1360.1C1959.8 1360.6 1978.5 1361.4 1985.8 1361.6C1993.0 1361.9 1995.3 1362.0 1996.9 1362.0"/>
<path stroke="#AD6EE0" stroke-width="4.70" d="M445.5 171.3C448.8 171.6 458.7 172.3 465.0 172.7C471.4 173.2 477.4 173.5 483.6 174.1C489.8 174.7 496.0 175.6 502.2 176.4C508.4 177.3 514.6 178.3 520.8 179.2C527.0 180.2 533.1 181.2 539.3 182.0C545.5 182.9 551.7 183.6 557.9 184.3C564.1 185.1 569.5 185.8 576.5 186.7C583.5 187.5 595.4 188.9 600.0 189.5C604.6 190.0 597.4 189.4 604.4 190.2C611.3 191.0 629.1 192.9 641.5 194.3C653.9 195.8 667.8 197.4 678.7 199.0C689.5 200.5 698.8 201.9 706.5 203.6C714.3 205.3 718.9 207.0 725.1 209.2C731.3 211.3 737.5 213.4 743.7 216.6C749.9 219.9 756.1 223.7 762.3 228.7C768.5 233.6 775.9 240.9 780.9 246.3C785.8 251.8 788.8 256.6 792.0 261.2C795.2 265.8 797.1 268.6 800.0 274.2C802.9 279.8 805.6 286.9 809.3 294.6C813.0 302.4 818.3 311.7 822.3 320.7C826.3 329.6 830.0 339.2 833.4 348.5C836.8 357.8 839.8 367.1 842.7 376.4C845.7 385.7 848.6 395.0 851.1 404.3C853.6 413.5 856.2 425.8 857.6 432.1C859.0 438.4 857.6 434.1 859.5 442.0C861.3 449.8 865.6 465.2 868.7 479.2C871.8 493.1 875.2 510.1 878.0 525.6C880.8 541.1 883.0 555.0 885.5 572.1C887.9 589.1 890.7 610.8 892.9 627.8C895.1 644.8 896.8 660.3 898.5 674.2C900.2 688.2 901.7 699.9 903.1 711.4C904.5 722.8 905.9 734.2 906.8 743.0C907.8 751.7 907.6 751.2 908.7 764.0C909.8 776.8 911.6 801.2 913.3 819.7C915.0 838.3 917.0 856.9 918.9 875.5C920.8 894.1 922.8 914.2 924.5 931.2C926.2 948.2 927.6 962.2 929.1 977.7C930.7 993.1 932.2 1008.6 933.8 1024.1C935.3 1039.6 937.3 1060.2 938.4 1070.5C939.5 1080.9 939.8 1081.8 940.3 1086.0C940.7 1090.1 940.3 1092.5 941.2 1095.3C942.1 1098.1 943.7 1099.9 945.8 1102.7C948.0 1105.5 950.6 1107.4 954.2 1112.0C957.8 1116.7 961.9 1123.2 967.2 1130.6C972.5 1138.0 979.6 1148.9 985.8 1156.6C992.0 1164.3 998.8 1170.5 1004.4 1177.0C1009.9 1183.5 1014.6 1189.4 1019.2 1195.6C1023.9 1201.8 1028.5 1209.5 1032.2 1214.2C1035.9 1218.8 1036.9 1220.1 1041.5 1223.5C1046.2 1226.9 1053.9 1231.2 1060.1 1234.6C1066.3 1238.0 1070.9 1240.8 1078.7 1243.9C1086.4 1247.0 1097.3 1250.7 1106.5 1253.2C1115.8 1255.7 1126.2 1257.3 1134.4 1258.8C1142.6 1260.3 1146.0 1260.9 1155.7 1262.4C1165.5 1263.9 1180.5 1266.1 1192.9 1268.0C1205.3 1269.8 1217.7 1271.7 1230.1 1273.5C1242.4 1275.4 1254.8 1277.4 1267.2 1279.1C1279.6 1280.8 1292.0 1282.4 1304.4 1283.8C1316.8 1285.2 1329.1 1286.4 1341.5 1287.5C1353.9 1288.6 1366.3 1289.5 1378.7 1290.3C1391.1 1291.0 1403.5 1291.6 1415.8 1292.1C1428.2 1292.7 1439.0 1293.0 1453.0 1293.4C1467.0 1293.8 1491.2 1294.3 1500.0 1294.5C1508.8 1294.8 1495.5 1295.0 1505.7 1295.1C1516.0 1295.3 1542.9 1295.4 1561.5 1295.3C1580.1 1295.2 1598.6 1294.6 1617.2 1294.8C1635.8 1294.9 1654.4 1295.5 1672.9 1296.1C1691.5 1296.6 1710.1 1297.2 1728.7 1298.1C1747.3 1299.0 1768.9 1300.3 1784.4 1301.3C1799.9 1302.2 1809.7 1302.8 1821.6 1304.0C1833.5 1305.3 1846.9 1307.0 1855.7 1308.7C1864.5 1310.4 1868.1 1312.1 1874.3 1314.3C1880.5 1316.4 1886.7 1319.1 1892.9 1321.7C1899.1 1324.3 1905.3 1327.3 1911.5 1330.1C1917.7 1332.8 1923.9 1335.8 1930.1 1338.4C1936.2 1341.0 1942.4 1343.7 1948.6 1345.8C1954.8 1348.0 1961.0 1349.8 1967.2 1351.4C1973.4 1353.1 1979.6 1354.7 1985.8 1355.7C1992.0 1356.7 1999.7 1357.2 2004.4 1357.5C2009.0 1357.9 2012.1 1357.9 2013.7 1357.9"/>
<path stroke="#AD6EE0" stroke-width="5.40" d="M445.5 171.3C448.8 171.6 458.7 172.3 465.0 172.7C471.4 173.2 477.4 173.5 483.6 174.1C489.8 174.7 496.0 175.6 502.2 176.4C508.4 177.3 514.6 178.3 520.8 179.2C527.0 180.2 533.1 181.2 539.3 182.0C545.5 182.9 551.7 183.6 557.9 184.3C564.1 185.1 569.5 185.8 576.5 186.7C583.5 187.5 595.4 188.9 600.0 189.5C604.6 190.0 597.4 189.4 604.4 190.2C611.3 191.0 629.1 192.9 641.5 194.3C653.9 195.8 667.8 197.4 678.7 199.0C689.5 200.5 698.8 201.9 706.5 203.6C714.3 205.3 718.9 207.0 725.1 209.2C731.3 211.3 737.5 213.4 743.7 216.6C749.9 219.9 759.2 226.7 762.3 228.7"/>
<path stroke="#AD6EE0" stroke-width="5.40" d="M967.2 1130.6C970.3 1134.9 979.6 1148.9 985.8 1156.6C992.0 1164.3 998.8 1170.5 1004.4 1177.0C1009.9 1183.5 1014.6 1189.4 1019.2 1195.6C1023.9 1201.8 1028.5 1209.5 1032.2 1214.2C1035.9 1218.8 1036.9 1220.1 1041.5 1223.5C1046.2 1226.9 1053.9 1231.2 1060.1 1234.6C1066.3 1238.0 1070.9 1240.8 1078.7 1243.9C1086.4 1247.0 1097.3 1250.7 1106.5 1253.2C1115.8 1255.7 1126.2 1257.3 1134.4 1258.8C1142.6 1260.3 1146.0 1260.9 1155.7 1262.4C1165.5 1263.9 1180.5 1266.1 1192.9 1268.0C1205.3 1269.8 1217.7 1271.7 1230.1 1273.5C1242.4 1275.4 1254.8 1277.4 1267.2 1279.1C1279.6 1280.8 1292.0 1282.4 1304.4 1283.8C1316.8 1285.2 1329.1 1286.4 1341.5 1287.5C1353.9 1288.6 1366.3 1289.5 1378.7 1290.3C1391.1 1291.0 1403.5 1291.6 1415.8 1292.1C1428.2 1292.7 1439.0 1293.0 1453.0 1293.4C1467.0 1293.8 1491.2 1294.3 1500.0 1294.5C1508.8 1294.8 1495.5 1295.0 1505.7 1295.1C1516.0 1295.3 1542.9 1295.4 1561.5 1295.3C1580.1 1295.2 1598.6 1294.6 1617.2 1294.8C1635.8 1294.9 1654.4 1295.5 1672.9 1296.1C1691.5 1296.6 1710.1 1297.2 1728.7 1298.1C1747.3 1299.0 1768.9 1300.3 1784.4 1301.3C1799.9 1302.2 1809.7 1302.8 1821.6 1304.0C1833.5 1305.3 1846.9 1307.0 1855.7 1308.7C1864.5 1310.4 1868.1 1312.1 1874.3 1314.3C1880.5 1316.4 1886.7 1319.1 1892.9 1321.7C1899.1 1324.3 1905.3 1327.3 1911.5 1330.1C1917.7 1332.8 1923.9 1335.8 1930.1 1338.4C1936.2 1341.0 1942.4 1343.7 1948.6 1345.8C1954.8 1348.0 1961.0 1349.8 1967.2 1351.4C1973.4 1353.1 1979.6 1354.7 1985.8 1355.7C1992.0 1356.7 1999.7 1357.2 2004.4 1357.5C2009.0 1357.9 2012.1 1357.9 2013.7 1357.9"/>
</g>
<g stroke="#000" stroke-width="6" fill="none" stroke-linecap="butt">
<path d="M285.7 38.1 V1614.2"/>
<path d="M270.7 1599.2 H2220.3"/>
<path d="M255.2 1469.4 H285.7M255.2 1209.7 H285.7M255.2 950.0 H285.7M255.2 690.3 H285.7M255.2 430.6 H285.7M255.2 170.9 H285.7M270.7 1339.5 H285.7M270.7 1079.8 H285.7M270.7 820.1 H285.7M270.7 560.4 H285.7M270.7 300.8 H285.7M270.7 41.1 H285.7M387.4 1599.2 V1629.8M590.7 1599.2 V1629.8M794.0 1599.2 V1629.8M997.4 1599.2 V1629.8M1200.7 1599.2 V1629.8M1404.0 1599.2 V1629.8M1607.3 1599.2 V1629.8M1810.6 1599.2 V1629.8M2014.0 1599.2 V1629.8M2217.3 1599.2 V1629.8M489.1 1599.2 V1614.2M692.4 1599.2 V1614.2M895.7 1599.2 V1614.2M1099.0 1599.2 V1614.2M1302.3 1599.2 V1614.2M1505.7 1599.2 V1614.2M1709.0 1599.2 V1614.2M1912.3 1599.2 V1614.2M2115.6 1599.2 V1614.2"/>
</g>
<g font-size="83.5">
<text x="235.7" y="1493.4" text-anchor="end">0</text>
<text x="235.7" y="1233.7" text-anchor="end">20</text>
<text x="235.7" y="974.0" text-anchor="end">40</text>
<text x="235.7" y="714.3" text-anchor="end">60</text>
<text x="235.7" y="454.6" text-anchor="end">80</text>
<text x="235.7" y="194.9" text-anchor="end">100</text>
<text x="387.9" y="1713.4" text-anchor="middle">0</text>
<text x="591.2" y="1713.4" text-anchor="middle">100</text>
<text x="794.5" y="1713.4" text-anchor="middle">200</text>
<text x="997.9" y="1713.4" text-anchor="middle">300</text>
<text x="1201.2" y="1713.4" text-anchor="middle">400</text>
<text x="1404.5" y="1713.4" text-anchor="middle">500</text>
<text x="1607.8" y="1713.4" text-anchor="middle">600</text>
<text x="1811.1" y="1713.4" text-anchor="middle">700</text>
<text x="2014.5" y="1713.4" text-anchor="middle">800</text>
<text x="2217.8" y="1713.4" text-anchor="middle">900</text>
</g>
<text font-size="80" x="1220.0" y="1811.9" text-anchor="middle">T (°C)</text>
<text font-size="81.2" text-anchor="middle" transform="translate(94.4 818.5) rotate(-90)">Weight (%)</text>
<g stroke-width="5.8" stroke-linecap="round" fill="none">
<path stroke="#474747" d="M312.0 1214.5 H461.0"/>
<path stroke="#AD6EE0" d="M312.0 1297.0 H461.0"/>
<path stroke="#EF3035" d="M312.0 1379.7 H461.0"/>
<path stroke="#1468DF" d="M312.0 1462.1 H461.0"/>
<path stroke="#2AA85F" d="M312.0 1544.5 H461.0"/>
</g>
<g font-size="66">
<text x="479.3" y="1236.3">Pyr</text>
<text x="479.3" y="1318.8">Pyr WP</text>
<text x="479.3" y="1401.5">HPγCD</text>
<text x="479.3" y="1483.9">Pyr-HPγCD PM</text>
<text x="479.3" y="1566.3">Pyr/HPγCD-IC-NFs</text>
</g>
</svg>
</body></html>
